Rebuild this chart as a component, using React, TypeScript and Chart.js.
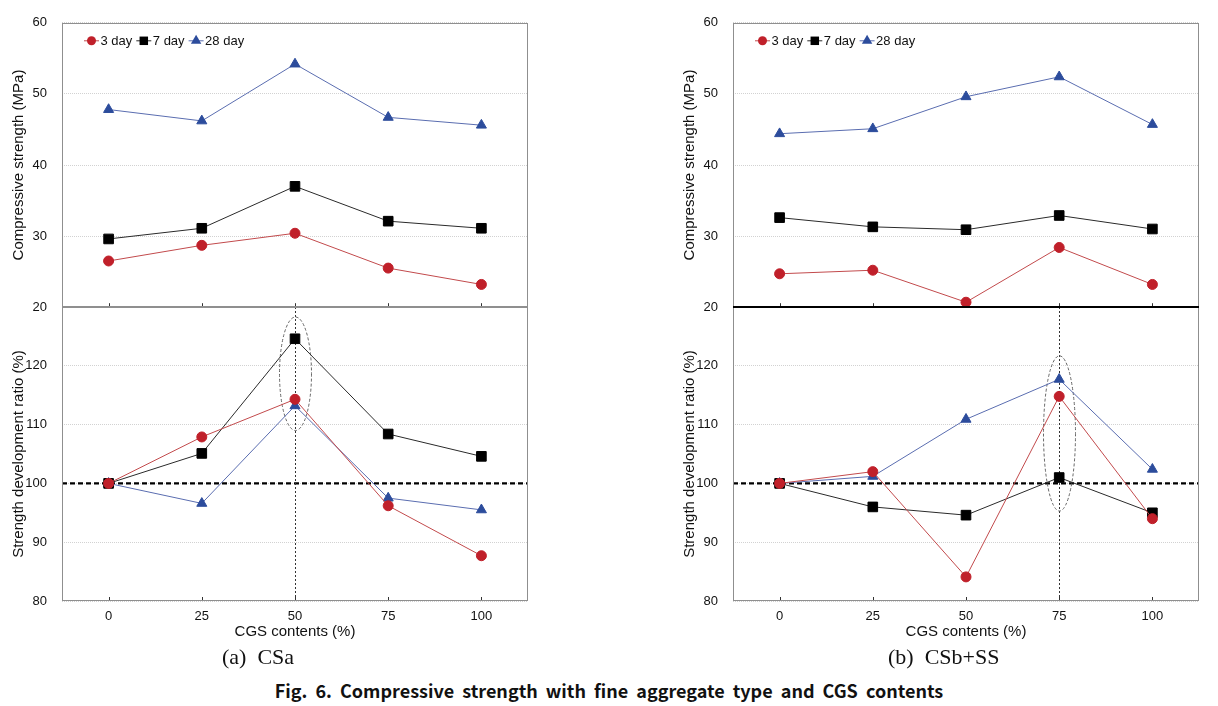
import React, { useEffect, useRef } from 'react';
import { Chart, registerables } from 'chart.js';

Chart.register(...registerables);

// ---------- data ----------
const categories = ['0', '25', '50', '75', '100'];
const seriesLabels = ['3 day', '7 day', '28 day'];

const csaStrength3 = [26.5, 28.7, 30.4, 25.5, 23.2];
const csaStrength7 = [29.6, 31.1, 37.0, 32.1, 31.1];
const csaStrength28 = [47.8, 46.2, 54.2, 46.7, 45.6];

const csaRatio3 = [100, 107.9, 114.3, 96.2, 87.7];
const csaRatio7 = [100, 105.1, 124.6, 108.4, 104.6];
const csaRatio28 = [100, 96.6, 113.2, 97.5, 95.5];

const csbStrength3 = [24.7, 25.2, 20.7, 28.4, 23.2];
const csbStrength7 = [32.6, 31.3, 30.9, 32.9, 31.0];
const csbStrength28 = [44.4, 45.1, 49.6, 52.4, 45.7];

const csbRatio3 = [100, 102.0, 84.1, 114.8, 94.0];
const csbRatio7 = [100, 96.0, 94.6, 101.0, 95.0];
const csbRatio28 = [100, 101.2, 110.9, 117.7, 102.4];

const strengthTicks = [20, 30, 40, 50, 60];
const ratioTicks = [80, 90, 100, 110, 120];
const ratioMax = 130;
const referenceRatio = 100;

// highlighted category and ellipse extent (value units)
const csaHighlight = { index: 2, top: 128.3, bottom: 109.0 };
const csbHighlight = { index: 3, top: 121.7, bottom: 95.3 };

// ---------- styles ----------
const FONT = '"Liberation Sans", Arial, Helvetica, sans-serif';
const TEXT = '#111111';
const STY = [
  { point: '#c0202a', line: '#c24a4c', style: 'circle', radius: 5 },
  { point: '#000000', line: '#2a2a2a', style: 'rect', radius: 6.8 },
  { point: '#2c4c9c', line: '#5a6db0', style: 'triangle', radius: 5.8 },
];

function drawMarker(ctx: CanvasRenderingContext2D, style: string, x: number, y: number, r: number, color: string) {
  ctx.fillStyle = color;
  ctx.beginPath();
  if (style === 'circle') {
    ctx.arc(x, y, r, 0, Math.PI * 2);
  } else if (style === 'rect') {
    const s = r * Math.SQRT1_2;
    ctx.rect(x - s, y - s, 2 * s, 2 * s);
  } else {
    ctx.moveTo(x, y - r);
    ctx.lineTo(x + r * 0.866, y + r * 0.5);
    ctx.lineTo(x - r * 0.866, y + r * 0.5);
    ctx.closePath();
  }
  ctx.fill();
}

const decorPlugin = {
  id: 'decor',
  beforeDatasetsDraw(chart: any, _args: any, opts: any) {
    const { ctx, chartArea: a, scales } = chart;
    const xs = scales.x;
    const ys = scales.y;
    ctx.save();
    if (opts.refValue != null) {
      const y = ys.getPixelForValue(opts.refValue);
      ctx.strokeStyle = '#000';
      ctx.lineWidth = 2.2;
      ctx.setLineDash([5, 3]);
      ctx.beginPath();
      ctx.moveTo(a.left, y);
      ctx.lineTo(a.right, y);
      ctx.stroke();
    }
    if (opts.highlight) {
      const h = opts.highlight;
      const x = Math.round(xs.getPixelForValue(h.index)) + 0.5;
      ctx.strokeStyle = '#333';
      ctx.lineWidth = 1;
      ctx.setLineDash([2, 2]);
      ctx.beginPath();
      ctx.moveTo(x, a.top);
      ctx.lineTo(x, a.bottom);
      ctx.stroke();
      const y1 = ys.getPixelForValue(h.top);
      const y2 = ys.getPixelForValue(h.bottom);
      ctx.strokeStyle = '#666';
      ctx.setLineDash([3, 2]);
      ctx.beginPath();
      ctx.ellipse(x, (y1 + y2) / 2, 16, Math.abs(y2 - y1) / 2, 0, 0, Math.PI * 2);
      ctx.stroke();
    }
    ctx.setLineDash([]);
    ctx.strokeStyle = '#333';
    ctx.lineWidth = 1;
    for (let i = 0; i < categories.length; i++) {
      const x = Math.round(xs.getPixelForValue(i)) + 0.5;
      ctx.beginPath();
      ctx.moveTo(x, a.bottom);
      ctx.lineTo(x, a.bottom - 4);
      ctx.stroke();
    }
    ctx.strokeStyle = '#8f8f8f';
    ctx.lineWidth = 1;
    ctx.strokeRect(Math.round(a.left) + 0.5, Math.round(a.top) + 0.5, Math.round(a.right - a.left) - 1, Math.round(a.bottom - a.top) - 1);
    if (opts.sepColor) {
      const y = Math.round(a.top);
      ctx.strokeStyle = opts.sepColor;
      ctx.lineWidth = 2;
      ctx.beginPath();
      ctx.moveTo(a.left, y);
      ctx.lineTo(a.right, y);
      ctx.stroke();
    }
    ctx.restore();
  },
  afterDraw(chart: any, _args: any, opts: any) {
    if (!opts.legend) return;
    const { ctx, chartArea: a } = chart;
    ctx.save();
    ctx.font = `13px ${FONT}`;
    ctx.textBaseline = 'middle';
    let x = a.left + 22;
    const y = a.top + 18;
    seriesLabels.forEach((label, i) => {
      const s = STY[i];
      ctx.strokeStyle = s.line;
      ctx.lineWidth = 1;
      ctx.beginPath();
      ctx.moveTo(x, y);
      ctx.lineTo(x + 15, y);
      ctx.stroke();
      drawMarker(ctx, s.style, x + 7.5, y, s.style === 'circle' ? 4.5 : 6, s.point);
      ctx.fillStyle = TEXT;
      ctx.fillText(label, x + 16.5, y + 0.5);
      x += 16.5 + ctx.measureText(label).width + 4;
    });
    ctx.restore();
  },
};

Chart.register(decorPlugin);

type PanelData = {
  strength: number[][];
  ratio: number[][];
  highlight: { index: number; top: number; bottom: number };
  darkSeparator: boolean;
};

const panelA: PanelData = {
  strength: [csaStrength3, csaStrength7, csaStrength28],
  ratio: [csaRatio3, csaRatio7, csaRatio28],
  highlight: csaHighlight,
  darkSeparator: false,
};
const panelB: PanelData = {
  strength: [csbStrength3, csbStrength7, csbStrength28],
  ratio: [csbRatio3, csbRatio7, csbRatio28],
  highlight: csbHighlight,
  darkSeparator: true,
};

function makeConfig(kind: 'top' | 'bottom', panel: PanelData): any {
  const isTop = kind === 'top';
  const values = isTop ? panel.strength : panel.ratio;
  const datasets = values.map((data, i) => ({
    label: seriesLabels[i],
    data,
    borderColor: STY[i].line,
    borderWidth: 1,
    pointStyle: STY[i].style,
    pointRadius: STY[i].radius,
    pointBackgroundColor: STY[i].point,
    pointBorderColor: STY[i].point,
    pointBorderWidth: 1,
    tension: 0,
    fill: false,
  }));
  const yTicks = isTop ? strengthTicks : ratioTicks;
  const xScale: any = {
    type: 'category',
    offset: true,
    display: !isTop,
    grid: { display: false, drawTicks: false },
    border: { display: false },
    ticks: { padding: 8, font: { family: FONT, size: 13 }, color: TEXT, maxRotation: 0 },
    title: {
      display: true,
      text: 'CGS contents (%)',
      font: { family: FONT, size: 15 },
      color: TEXT,
      padding: { top: 0, bottom: 4 },
    },
  };
  if (!isTop) {
    xScale.afterFit = (s: any) => {
      s.height = 44;
    };
  }
  return {
    type: 'line',
    data: { labels: categories, datasets },
    options: {
      responsive: false,
      animation: false,
      devicePixelRatio: 1,
      layout: {
        padding: isTop ? { top: 15, bottom: 13, left: 0, right: 12 } : { top: 27, bottom: 0, left: 0, right: 12 },
      },
      plugins: {
        legend: { display: false },
        tooltip: { enabled: false },
        decor: {
          legend: isTop,
          refValue: isTop ? null : referenceRatio,
          highlight: isTop ? null : panel.highlight,
          sepColor: !isTop && panel.darkSeparator ? '#000' : null,
        },
      },
      scales: {
        x: xScale,
        y: {
          min: yTicks[0],
          max: isTop ? strengthTicks[strengthTicks.length - 1] : ratioMax,
          ticks: {
            stepSize: 10,
            padding: 15,
            font: { family: FONT, size: 13 },
            color: TEXT,
            callback: (v: number) => (yTicks.includes(v) ? String(v) : ''),
          },
          grid: { color: '#d2d2d2', drawTicks: false, lineWidth: 1 },
          border: { display: false, dash: [1, 1] },
          title: {
            display: true,
            text: isTop ? 'Compressive strength (MPa)' : 'Strength development ratio (%)',
            font: { family: FONT, size: 15 },
            color: TEXT,
            padding: { top: 10, bottom: 0 },
          },
          afterFit: (s: any) => {
            s.width = 62;
          },
        },
      },
    },
  };
}

function ChartBox(props: { left: number; top: number; width: number; height: number; config: () => any }) {
  const ref = useRef<HTMLCanvasElement>(null);
  useEffect(() => {
    const chart = new Chart(ref.current as HTMLCanvasElement, props.config());
    return () => chart.destroy();
  }, []);
  return (
    <canvas
      ref={ref}
      width={props.width}
      height={props.height}
      style={{ position: 'absolute', left: props.left, top: props.top, width: props.width, height: props.height }}
    />
  );
}

function Panel(props: { left: number; panel: PanelData }) {
  return (
    <>
      <ChartBox left={props.left} top={0} width={540} height={330} config={() => makeConfig('top', props.panel)} />
      <ChartBox left={props.left} top={280} width={540} height={365} config={() => makeConfig('bottom', props.panel)} />
    </>
  );
}

const captionStyle: any = {
  position: 'absolute',
  top: 644,
  fontFamily: '"Liberation Serif", "Times New Roman", serif',
  fontSize: 22,
  color: '#111',
  whiteSpace: 'pre',
  lineHeight: '26px',
};

export default function App() {
  return (
    <div style={{ position: 'absolute', left: 0, top: 0, width: 1218, height: 706, background: '#fff', overflow: 'hidden' }}>
      <Panel left={0} panel={panelA} />
      <Panel left={671} panel={panelB} />
      <div style={{ ...captionStyle, left: 222 }}>{'(a)  CSa'}</div>
      <div style={{ ...captionStyle, left: 888 }}>{'(b)  CSb+SS'}</div>
      <div
        style={{
          position: 'absolute',
          left: 0,
          width: 1218,
          top: 678,
          textAlign: 'center',
          fontFamily: '"Noto Sans CJK KR", "Noto Sans", sans-serif',
          fontWeight: 700,
          fontSize: 18,
          wordSpacing: 4,
          color: '#111',
          lineHeight: '24px',
          whiteSpace: 'pre',
        }}
      >
        {'Fig. 6. Compressive strength with fine aggregate type and CGS contents'}
      </div>
    </div>
  );
}
